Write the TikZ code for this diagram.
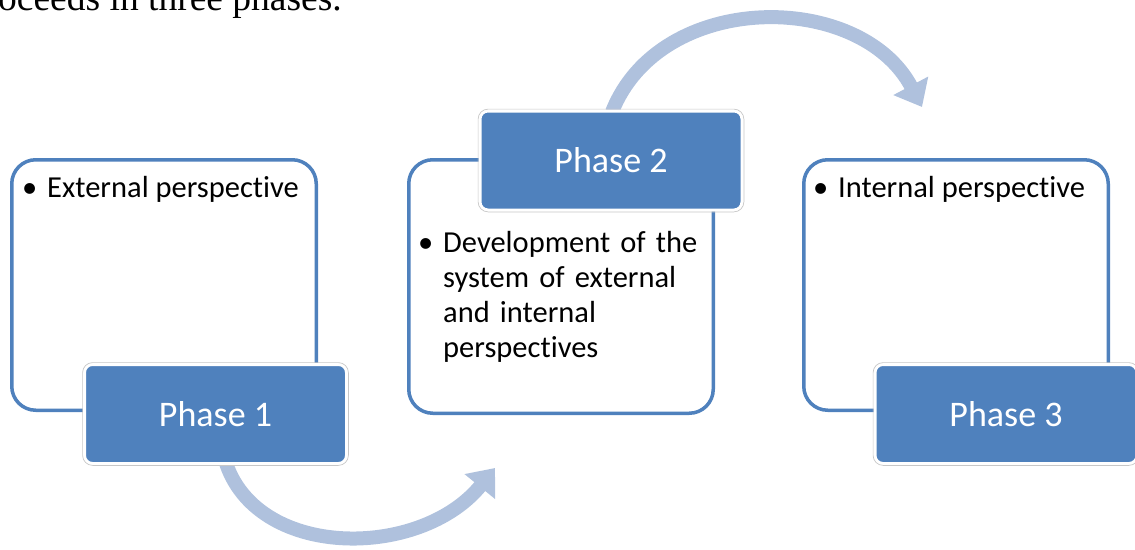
\documentclass[tikz,border=0pt]{standalone}
\usepackage{fontspec}
\setmainfont{Carlito}[Ligatures=NoCommon]
\newfontfamily\captionserif{Liberation Serif}
\usetikzlibrary{arrows.meta}
\definecolor{boxblue}{RGB}{79,129,189}
\definecolor{arrowblue}{RGB}{175,193,221}
\tikzset{
 panel/.style={draw=boxblue, line width=3.5pt, fill=white, rounded corners=24pt, inner sep=0pt},
 phasebox/.style={draw=white, line width=3pt, fill=boxblue, rounded corners=8pt, text=white,
   font=\fontsize{36}{40}\selectfont, inner sep=0pt, minimum width=262pt, minimum height=99pt},
 phaseshadow/.style={draw=black!22, line width=0.7pt, rounded corners=10pt},
 bodytext/.style={font=\fontsize{30.5}{35}\selectfont, inner sep=0pt, anchor=base west},
 flow/.style={draw=arrowblue, line width=14pt, -{Triangle[length=24pt,width=38pt]}},
}
\begin{document}
\begin{tikzpicture}[x=1pt,y=-1pt]
\useasboundingbox (0,0) rectangle (1135,549);
\node[font=\captionserif\fontsize{37.5}{40}\selectfont, anchor=base east, inner sep=0pt] (cap) at (342,10) {oceeds in three phases.};

% curved flow arrows (behind boxes)
\coordinate (f1s) at (225,460);
\coordinate (f1e) at (495,468);
\coordinate (f2s) at (612,112);
\coordinate (f2e) at (922,107);
\draw[flow] (f1s) .. controls (255,560) and (420,560) .. (f1e);
\draw[flow] (f2s) .. controls (660,-10) and (860,-10) .. (f2e);

% panels
\node[panel, minimum width=304.5pt, minimum height=250.5pt] (b1) at (164,285) {};
\node[panel, minimum width=304.5pt, minimum height=253.5pt] (b2) at (561,286.5) {};
\node[panel, minimum width=304.5pt, minimum height=250.5pt] (b3) at (956,285) {};

% bullet texts
\node[bodytext] (u1) at (22,197) {\textbullet};
\node[bodytext] (t1) at (47,197) {External perspective};
\node[bodytext] (u2) at (418,252) {\textbullet};
\node[bodytext, text width=300pt, align=left] (t2) at (443,252) {Development of the\\system of external\\and internal\\perspectives};
\node[bodytext] (u3) at (813,197) {\textbullet};
\node[bodytext] (t3) at (838,197) {Internal perspective};

% phase boxes
\node[phasebox] (p1) at (215.5,414) {Phase 1};
\node[phasebox] (p2) at (611,160.5) {Phase 2};
\node[phasebox] (p3) at (1006,414) {Phase 3};
\foreach \p in {p1,p2,p3}{
  \draw[phaseshadow] ([xshift=-0.4pt,yshift=0.4pt]\p.north west) rectangle ([xshift=0.4pt,yshift=-0.4pt]\p.south east);
}
\end{tikzpicture}
\end{document}
